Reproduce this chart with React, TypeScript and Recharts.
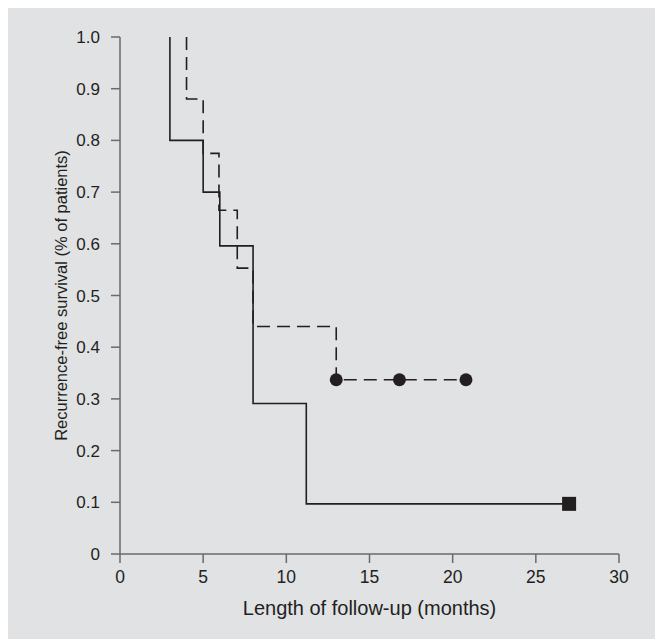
import React from "react";
import { ComposedChart, Line, Scatter, XAxis, YAxis, Label } from "recharts";

// solid group: step points (time in months, survival)
const solidSteps = [
  { t: 3, s: 1.0 },
  { t: 3, s: 0.8 },
  { t: 5, s: 0.7 },
  { t: 6, s: 0.596 },
  { t: 8, s: 0.291 },
  { t: 11.2, s: 0.097 },
  { t: 27, s: 0.097 },
];

// dashed group
const dashedSteps = [
  { t: 4, s: 1.0 },
  { t: 4, s: 0.88 },
  { t: 5, s: 0.775 },
  { t: 5.95, s: 0.665 },
  { t: 7.05, s: 0.553 },
  { t: 8, s: 0.44 },
  { t: 13, s: 0.337 },
  { t: 20.8, s: 0.337 },
];

// censored observations
const dashedCensored = [
  { t: 13, s: 0.337 },
  { t: 16.8, s: 0.337 },
  { t: 20.8, s: 0.337 },
];
const solidCensored = [{ t: 27, s: 0.097 }];

const xTicks = [0, 5, 10, 15, 20, 25, 30];
const yTicks = [0, 0.1, 0.2, 0.3, 0.4, 0.5, 0.6, 0.7, 0.8, 0.9, 1.0];

const ink = "#231f20";
const axisGray = "#6a6a6a";
const font = "'Liberation Sans', Arial, sans-serif";

const fmtY = (v: number) => (v === 0 ? "0" : v.toFixed(1));

const Dot = (props: any) => {
  const { cx, cy } = props;
  return <circle cx={cx} cy={cy} r={6.5} fill={ink} />;
};

const Square = (props: any) => {
  const { cx, cy } = props;
  return <rect x={cx - 7} y={cy - 7} width={14} height={14} fill={ink} />;
};

const YTitle = (props: any) => {
  const { viewBox } = props;
  const x = viewBox.x + 54;
  const y = viewBox.y + viewBox.height / 2;
  return (
    <text
      x={x}
      y={y}
      transform={`rotate(-90 ${x} ${y})`}
      textAnchor="middle"
      dominantBaseline="central"
      fontSize={16.5}
      fontFamily={font}
      fill={ink}
    >
      Recurrence-free survival (% of patients)
    </text>
  );
};

export default function App() {
  return (
    <div style={{ width: 656, height: 632, margin: "-1px 0 0 -1px", background: "#e1e2e4" }}>
      <ComposedChart width={656} height={632} margin={{ top: 30, right: 44, left: 0, bottom: 0 }}>
        <XAxis
          type="number"
          dataKey="t"
          domain={[0, 30]}
          ticks={xTicks}
          height={85}
          tickSize={9}
          tickMargin={8}
          stroke={axisGray}
          strokeWidth={1.5}
          tick={{ fill: ink, fontSize: 17.5, fontFamily: font }}
          allowDuplicatedCategory={false}
        >
          <Label
            value="Length of follow-up (months)"
            position="insideBottom"
            offset={24}
            fill={ink}
            fontSize={20}
            fontFamily={font}
          />
        </XAxis>
        <YAxis
          type="number"
          dataKey="s"
          domain={[0, 1]}
          ticks={yTicks}
          width={113}
          tickSize={9}
          tickMargin={11}
          tickFormatter={fmtY}
          stroke={axisGray}
          strokeWidth={1.5}
          tick={{ fill: ink, fontSize: 17, fontFamily: font }}
        >
          <Label content={<YTitle />} />
        </YAxis>
        <Line
          data={solidSteps}
          dataKey="s"
          type="stepAfter"
          stroke={ink}
          strokeWidth={1.6}
          dot={false}
          isAnimationActive={false}
        />
        <Line
          data={dashedSteps}
          dataKey="s"
          type="stepAfter"
          stroke={ink}
          strokeWidth={1.6}
          strokeDasharray="13 7"
          dot={false}
          isAnimationActive={false}
        />
        <Scatter data={dashedCensored} dataKey="s" shape={<Dot />} isAnimationActive={false} />
        <Scatter data={solidCensored} dataKey="s" shape={<Square />} isAnimationActive={false} />
      </ComposedChart>
    </div>
  );
}
